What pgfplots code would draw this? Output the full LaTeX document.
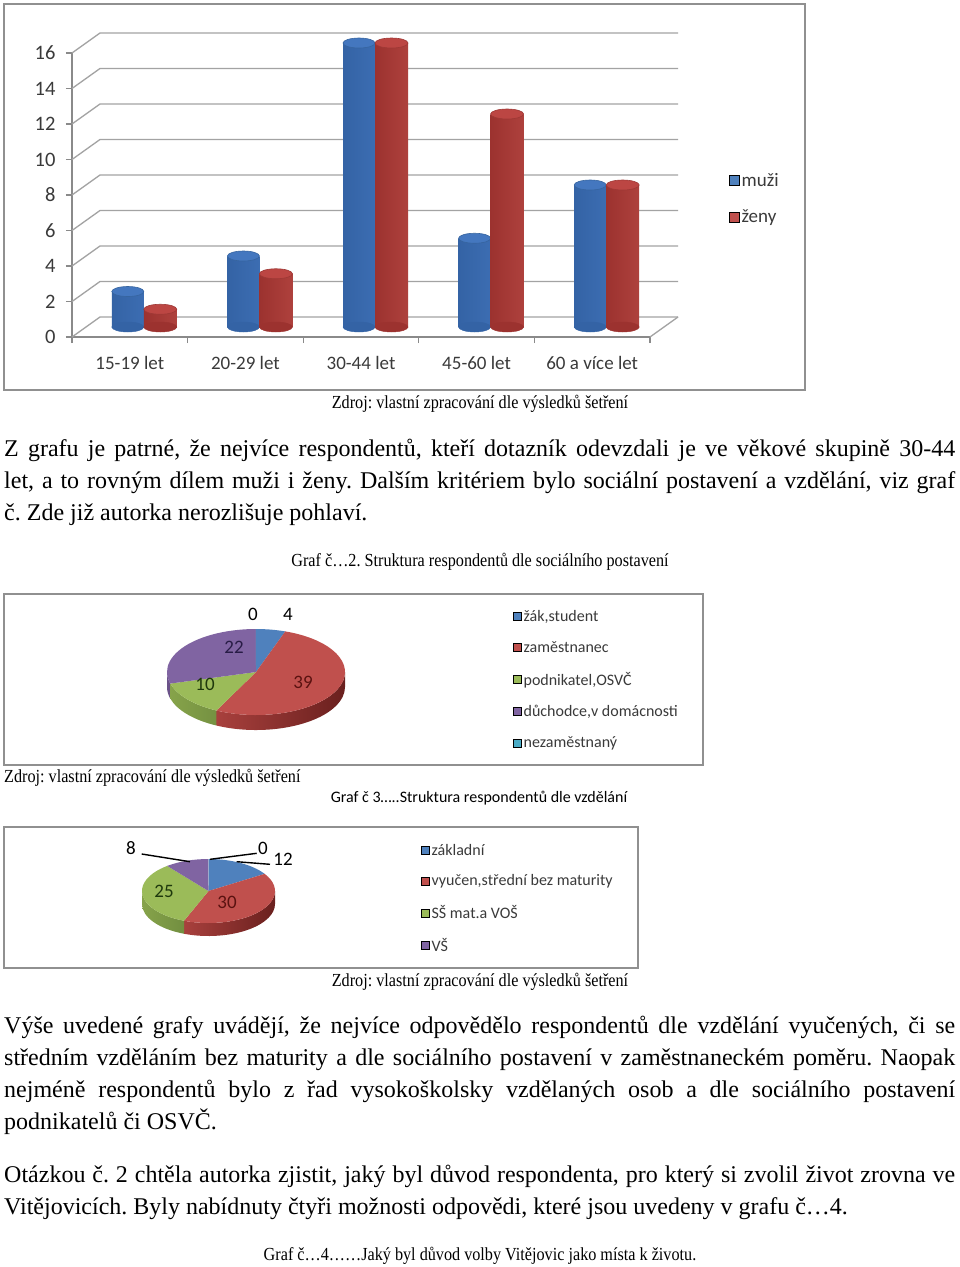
\documentclass[border=0pt]{standalone}
\usepackage{fontspec}
\setmainfont{Liberation Serif}
\newfontfamily\serfont{Liberation Serif}
\newfontfamily\calfont{Carlito}
\newfontfamily\capfont[FakeStretch=0.88]{Liberation Serif}
\usepackage{pgfplots}
\usepackage{pgfplotstable}
\pgfplotsset{compat=1.18}
\frenchspacing

\definecolor{cBlue}{HTML}{4F81BD}
\definecolor{cRed}{HTML}{C0504D}
\definecolor{cGreen}{HTML}{9BBB59}
\definecolor{cPurple}{HTML}{8064A2}
\definecolor{cCyan}{HTML}{4BACC6}
\definecolor{cBlueSL}{HTML}{42699A}\definecolor{cBlueSR}{HTML}{2E4F78}
\definecolor{cRedSL}{HTML}{A8403D}\definecolor{cRedSR}{HTML}{6A201E}
\definecolor{cGreenSL}{HTML}{86A34A}\definecolor{cGreenSR}{HTML}{66823A}
\definecolor{cPurpleSL}{HTML}{6B5289}\definecolor{cPurpleSR}{HTML}{4A3862}
\definecolor{cBlueL}{HTML}{3463A5}\definecolor{cBlueM}{HTML}{5C90D6}\definecolor{cBlueR}{HTML}{3C6DB2}
\definecolor{cRedL}{HTML}{9C322F}\definecolor{cRedM}{HTML}{D75E5A}\definecolor{cRedR}{HTML}{AE413D}
\definecolor{cBlueCap}{HTML}{4477BF}\definecolor{cBlueCapD}{HTML}{36649F}
\definecolor{cRedCap}{HTML}{BC4643}\definecolor{cRedCapD}{HTML}{9E3835}
\definecolor{cGrid}{HTML}{A3A3A3}
\definecolor{cAxis}{HTML}{8A8A8A}
\definecolor{cFrame}{HTML}{909090}
\definecolor{cTxt}{HTML}{3A3A3A}

\pgfdeclareplotmark{ellB}{\pgfpathellipse{\pgfpointorigin}{\pgfqpoint{16pt}{0pt}}{\pgfqpoint{0pt}{5pt}}\pgfusepathqfillstroke}
\pgfdeclareplotmark{ellR}{\pgfpathellipse{\pgfpointorigin}{\pgfqpoint{16.5pt}{0pt}}{\pgfqpoint{0pt}{5pt}}\pgfusepathqfillstroke}

\pgfplotstableread{
x muzi zeny base
0 2 1 0
1 4 3 0
2 16 16 0
3 5 12 0
4 8 8 0
}\agedata

\newcommand\bodyf{\serfont\frenchspacing\fontsize{24}{30}\selectfont}
\newcommand\capf{\capfont\fontsize{18.4}{21}\selectfont}
\newcommand\calf[1]{\calfont\fontsize{#1}{#1}\selectfont}
\newcommand\jline[2]{\node[anchor=base west,inner sep=0pt] at (4pt,-#1pt) {\bodyf\makebox[951pt][s]{#2}};}
\newcommand\lline[2]{\node[anchor=base west,inner sep=0pt] at (4pt,-#1pt) {\bodyf #2};}

% pie: #1 cx, #2 cy (axis cs), #3 rx, #4 ry, #5 thickness, #6 total, #7 list value/top/sideL/sideR
\newcommand\drawpie[7]{%
\pgfplotsextra{%
 \gdef\pst{90}%
 \foreach \v/\ct/\cl/\cr in {#7} {%
   \pgfmathsetmacro\pen{\pst-\v/#6*360}%
   \pgfmathsetmacro\va{min(\pst,0)}%
   \pgfmathsetmacro\vb{max(\pen,-180)}%
   \pgfmathtruncatemacro\ok{\va>\vb ? 1 : 0}%
   \ifnum\ok=1
     \shade[left color=\cl, right color=\cr] (axis cs:#1,#2) ++(\va:#3 and #4) arc[start angle=\va, end angle=\vb, x radius=#3, y radius=#4] -- ++(0pt,-#5) arc[start angle=\vb, end angle=\va, x radius=#3, y radius=#4] -- cycle;
   \fi
   \xdef\pst{\pen}%
 }%
 \gdef\pst{90}%
 \foreach \v/\ct/\cl/\cr in {#7} {%
   \pgfmathsetmacro\pen{\pst-\v/#6*360}%
   \fill[\ct] (axis cs:#1,#2) -- ++(\pst:#3 and #4) arc[start angle=\pst, end angle=\pen, x radius=#3, y radius=#4] -- cycle;
   \xdef\pst{\pen}%
 }%
}}

\begin{document}
\begin{tikzpicture}
\fill[white] (0pt,0pt) rectangle (960pt,-1267pt);
\path[use as bounding box] (0pt,0pt) rectangle (960pt,-1267pt);

% ===== Chart 1: frame + legend =====
\begin{axis}[at={(4pt,-390pt)}, anchor=south west, scale only axis,
  width=801pt, height=386pt, xmin=0, xmax=1, ymin=0, ymax=1,
  xtick=\empty, ytick=\empty, axis line style={draw=cFrame, line width=1.2pt},
  legend style={draw=none, fill=none, at={(0.9051,0.567)}, anchor=north west,
    font=\calf{19}, text=cTxt, row sep=18pt, inner sep=0pt, nodes={inner sep=2pt},
    /tikz/every even column/.append style={column sep=3pt}},
  legend cell align=left,
  legend image code/.code={\fill[#1] (0pt,-5pt) rectangle (10pt,5pt);}]
\addlegendimage{fill=cBlue}\addlegendentry{muži}
\addlegendimage{fill=cRed}\addlegendentry{ženy}
\end{axis}

% front axis with walls
\begin{axis}[at={(72pt,-337pt)}, anchor=south west, scale only axis,
  width=578pt, height=284pt, xmin=-0.5, xmax=4.5, ymin=0, ymax=16, clip=false,
  axis x line*=bottom, axis y line*=left,
  axis line style={draw=cAxis, line width=1.3pt, -},
  ytick={0,2,...,16}, xtick={-0.5,0.5,...,4.5}, xticklabels={},
  extra x ticks={0,1,2,3,4},
  extra x tick labels={15-19 let,20-29 let,30-44 let,45-60 let,60 a více let},
  extra x tick style={major tick length=0pt, xticklabel style={yshift=-16pt}},
  tick align=outside, major tick length=6pt,
  tick style={draw=cAxis, line width=1.3pt},
  xticklabel style={font=\calf{19}, text=cTxt},
  yticklabel style={font=\calf{20.5}, text=cTxt, xshift=-7pt},
  /pgf/number format/assume math mode=true]
\pgfplotsinvokeforeach{0,2,...,16}{\draw[cGrid, line width=1.3pt] (axis cs:-0.5,#1) -- ++(28pt,20pt) -- ++(578pt,0pt);}
\draw[cGrid, line width=1.3pt] (axis cs:4.5,0) -- ++(28pt,20pt);
\end{axis}

% blue cylinders (muzi)
\begin{axis}[at={(70pt,-327pt)}, anchor=south west, scale only axis,
  width=578pt, height=284pt, xmin=-0.5, xmax=4.5, ymin=0, ymax=16, clip=false, hide axis]
\addplot[only marks, mark=ellB, mark options={fill=cBlueL, draw=cBlueL}] table[x=x, y=base]{\agedata};
\pgfplotsinvokeforeach{0,...,4}{
\addplot[ybar, bar width=32pt, bar shift=0pt, draw=none, left color=cBlueL, middle color=cBlueM, right color=cBlueR,
  restrict x to domain=#1:#1] table[x=x, y=muzi]{\agedata};
}
\addplot[only marks, mark=ellB, mark options={fill=cBlueCap, draw=cBlueCapD, line width=0.6pt}] table[x=x, y=muzi]{\agedata};
\end{axis}

% red cylinders (zeny)
\begin{axis}[at={(102.5pt,-327pt)}, anchor=south west, scale only axis,
  width=578pt, height=284pt, xmin=-0.5, xmax=4.5, ymin=0, ymax=16, clip=false, hide axis]
\addplot[only marks, mark=ellR, mark options={fill=cRedL, draw=cRedL}] table[x=x, y=base]{\agedata};
\pgfplotsinvokeforeach{0,...,4}{
\addplot[ybar, bar width=33pt, bar shift=0pt, draw=none, left color=cRedL, middle color=cRedM, right color=cRedR,
  restrict x to domain=#1:#1] table[x=x, y=zeny]{\agedata};
}
\addplot[only marks, mark=ellR, mark options={fill=cRedCap, draw=cRedCapD, line width=0.6pt}] table[x=x, y=zeny]{\agedata};
\end{axis}

\node[anchor=base, inner sep=0pt] at (480pt,-408pt) {\capf Zdroj: vlastní zpracování dle výsledků šetření};

% ===== Paragraph 1 =====
\jline{456}{Z grafu je patrné, že nejvíce respondentů, kteří dotazník odevzdali je ve věkové skupině 30-44}
\jline{488}{let, a to rovným dílem muži i ženy. Dalším kritériem bylo sociální postavení a vzdělání, viz graf}
\lline{520}{č. Zde již autorka nerozlišuje pohlaví.}

\node[anchor=base, inner sep=0pt] at (480pt,-566pt) {\capf Graf č…2. Struktura respondentů dle sociálního postavení};

% ===== Pie 1 =====
\begin{axis}[at={(4pt,-765pt)}, anchor=south west, scale only axis,
  width=699pt, height=171pt, xmin=0, xmax=699, ymin=0, ymax=171,
  xtick=\empty, ytick=\empty, axis line style={draw=cFrame, line width=1.2pt}, clip=false,
  legend style={draw=none, fill=none, at={(0.7282,0.918)}, anchor=north west,
    font=\calf{16}, text=cTxt, row sep=14.5pt, inner sep=0pt, nodes={inner sep=2pt},
    /tikz/every even column/.append style={column sep=4pt}},
  legend cell align=left,
  legend image code/.code={\fill[#1] (0pt,-4pt) rectangle (8pt,4pt);}]
\addlegendimage{fill=cBlue}\addlegendentry{žák,student}
\addlegendimage{fill=cRed}\addlegendentry{zaměstnanec}
\addlegendimage{fill=cGreen}\addlegendentry{podnikatel,OSVČ}
\addlegendimage{fill=cPurple}\addlegendentry{důchodce,v domácnosti}
\addlegendimage{fill=cCyan}\addlegendentry{nezaměstnaný}
\drawpie{252}{93}{89pt}{43pt}{15pt}{75}{4/cBlue/cBlueSL/cBlueSR, 39/cRed/cRedSL/cRedSR, 10/cGreen/cGreenSL/cGreenSR, 22/cPurple/cPurpleSL/cPurpleSR, 0/cCyan/cCyan/cCyan}
\node[font=\calf{19}, text=black] at (axis cs:249,151) {0};
\node[font=\calf{19}, text=black] at (axis cs:284,151) {4};
\node[font=\calf{19}, text={rgb,255:red,40;green,28;blue,70}] at (axis cs:230,118) {22};
\node[font=\calf{19}, text={rgb,255:red,30;green,56;blue,12}] at (axis cs:201,81) {10};
\node[font=\calf{19}, text={rgb,255:red,90;green,18;blue,16}] at (axis cs:299,83) {39};
\end{axis}

\node[anchor=base west, inner sep=0pt] at (4pt,-782pt) {\capf Zdroj: vlastní zpracování dle výsledků šetření};
\node[anchor=base, inner sep=0pt] at (479pt,-802pt) {\calf{16}Graf č 3…..Struktura respondentů dle vzdělání};

% ===== Pie 2 =====
\begin{axis}[at={(4pt,-968pt)}, anchor=south west, scale only axis,
  width=634pt, height=141pt, xmin=0, xmax=634, ymin=0, ymax=141,
  xtick=\empty, ytick=\empty, axis line style={draw=cFrame, line width=1.2pt}, clip=false,
  legend style={draw=none, fill=none, at={(0.6578,0.8937)}, anchor=north west,
    font=\calf{16}, text=cTxt, row sep=14pt, inner sep=0pt, nodes={inner sep=2pt},
    /tikz/every even column/.append style={column sep=4pt}},
  legend cell align=left,
  legend image code/.code={\fill[#1] (0pt,-4pt) rectangle (8pt,4pt);}]
\addlegendimage{fill=cBlue}\addlegendentry{základní}
\addlegendimage{fill=cRed}\addlegendentry{vyučen,střední bez maturity}
\addlegendimage{fill=cGreen}\addlegendentry{SŠ mat.a VOŠ}
\addlegendimage{fill=cPurple}\addlegendentry{VŠ}
\drawpie{204.5}{77}{66.5pt}{32pt}{13pt}{75}{12/cBlue/cBlueSL/cBlueSR, 30/cRed/cRedSL/cRedSR, 25/cGreen/cGreenSL/cGreenSR, 8/cPurple/cPurpleSL/cPurpleSR, 0/cCyan/cCyan/cCyan}
\draw[black, line width=1.4pt] (axis cs:137.7,114) -- (axis cs:186,106.3);
\draw[black, line width=1.4pt] (axis cs:206,108.7) -- (axis cs:252.7,114.7);
\draw[black, line width=1.4pt] (axis cs:232.7,106.3) -- (axis cs:266,103.7);
\node[font=\calf{19}, text=black] at (axis cs:127,120) {8};
\node[font=\calf{19}, text=black] at (axis cs:259,120) {0};
\node[font=\calf{19}, text=black] at (axis cs:279,109) {12};
\node[font=\calf{19}, text={rgb,255:red,30;green,56;blue,12}] at (axis cs:160,77) {25};
\node[font=\calf{19}, text={rgb,255:red,90;green,18;blue,16}] at (axis cs:223,66) {30};
\end{axis}

\node[anchor=base, inner sep=0pt] at (480pt,-986pt) {\capf Zdroj: vlastní zpracování dle výsledků šetření};

% ===== Paragraph 2 =====
\jline{1033}{Výše uvedené grafy uvádějí, že nejvíce odpovědělo respondentů dle vzdělání vyučených, či se}
\jline{1065}{středním vzděláním bez maturity a dle sociálního postavení v zaměstnaneckém poměru. Naopak}
\jline{1097}{nejméně respondentů bylo z~řad vysokoškolsky vzdělaných osob a dle sociálního postavení}
\lline{1129}{podnikatelů či OSVČ.}

% ===== Paragraph 3 =====
\jline{1182}{Otázkou č. 2 chtěla autorka zjistit, jaký byl důvod respondenta, pro který si zvolil život zrovna ve}
\lline{1214}{Vitějovicích. Byly nabídnuty čtyři možnosti odpovědi, které jsou uvedeny v grafu č…4.}

\node[anchor=base, inner sep=0pt] at (480pt,-1260pt) {\capf Graf č…4……Jaký byl důvod volby Vitějovic jako místa k životu.};
\end{tikzpicture}
\end{document}
